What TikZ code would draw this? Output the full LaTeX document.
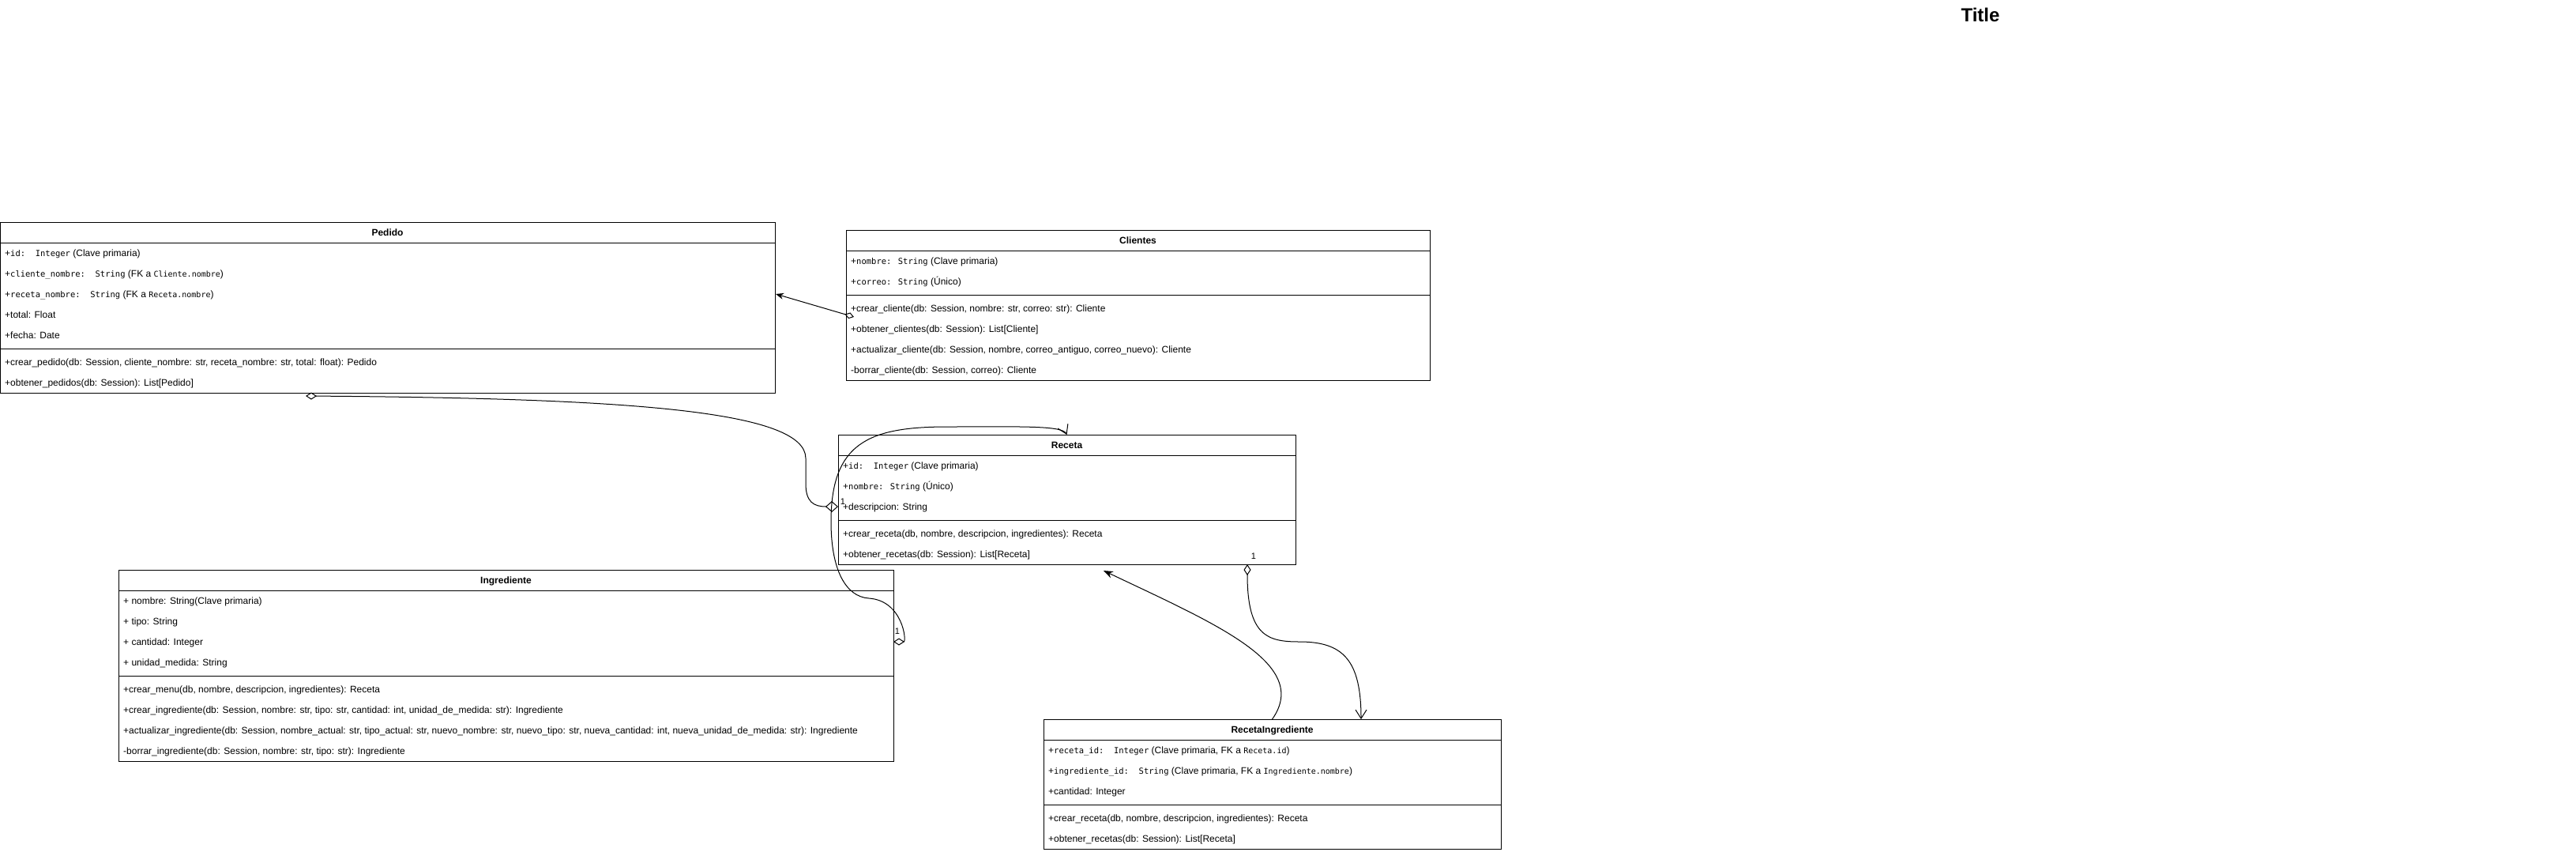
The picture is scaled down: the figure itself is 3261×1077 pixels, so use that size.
\documentclass[tikz,border=0pt]{standalone}
\usepackage{fontspec}
\setmainfont{Liberation Sans}
\newfontfamily\codefont{DejaVu Sans Mono}
\usepackage{tikz}
\usetikzlibrary{arrows.meta, positioning, calc}

\newcommand{\cod}[1]{{\codefont\fontsize{10.5}{12}\selectfont #1}}
\newcommand{\codsm}[1]{{\codefont\fontsize{10}{12}\selectfont #1}}

\begin{document}
\begin{tikzpicture}[x=1pt, y=-1pt,
    head/.style={rectangle, draw, line width=1pt, outer sep=0pt, inner sep=0pt, anchor=north west, minimum height=26pt, text height=8pt, text depth=0pt, font=\bfseries\fontsize{12}{14}\selectfont},
    part/.style={rectangle, draw, line width=1pt, outer sep=0pt, inner sep=0pt},
    row/.style={anchor=west, inner sep=0pt, text height=8pt, text depth=0pt, font=\fontsize{12}{14}\selectfont},
    mult/.style={inner sep=0pt, font=\fontsize{11}{13}\selectfont},
    link/.style={line width=1pt}
]
    \useasboundingbox (0,0) rectangle (3261,1077);

    \node[font=\bfseries\fontsize{24}{28}\selectfont] (title) at (2507,19) {Title};

    % Pedido
    \node[head, minimum width=981pt] (pedido) at (0,281) {Pedido};
    \node[part, minimum width=981pt, minimum height=134pt, below=0pt of pedido] (pedidoA) {};
    \node[part, minimum width=981pt, minimum height=56pt, below=0pt of pedidoA] (pedidoM) {};
    \node[row] (p1) at (6,320) {+\cod{id:\ \ Integer} (Clave primaria)};
    \node[row] (p2) at (6,346) {+\cod{cliente\_nombre:\ \ String} (FK a \codsm{Cliente.nombre})};
    \node[row] (p3) at (6,372) {+\cod{receta\_nombre:\ \ String} (FK a \codsm{Receta.nombre})};
    \node[row] (p4) at (6,398) {+total: Float};
    \node[row] (p5) at (6,424) {+fecha: Date};
    \node[row] (p6) at (6,458) {+crear\_pedido(db: Session, cliente\_nombre: str, receta\_nombre: str, total: float): Pedido};
    \node[row] (p7) at (6,484) {+obtener\_pedidos(db: Session): List[Pedido]};

    % Clientes
    \node[head, minimum width=739pt] (clientes) at (1071,291) {Clientes};
    \node[part, minimum width=739pt, minimum height=56pt, below=0pt of clientes] (clientesA) {};
    \node[part, minimum width=739pt, minimum height=108pt, below=0pt of clientesA] (clientesM) {};
    \node[row] (c1) at (1077,330) {+\cod{nombre: String} (Clave primaria)};
    \node[row] (c2) at (1077,356) {+\cod{correo: String} (Único)};
    \node[row] (c3) at (1077,390) {+crear\_cliente(db: Session, nombre: str, correo: str): Cliente};
    \node[row] (c4) at (1077,416) {+obtener\_clientes(db: Session): List[Cliente]};
    \node[row] (c5) at (1077,442) {+actualizar\_cliente(db: Session, nombre, correo\_antiguo, correo\_nuevo): Cliente};
    \node[row] (c6) at (1077,468) {-borrar\_cliente(db: Session, correo): Cliente};

    % Receta
    \node[head, minimum width=579pt] (receta) at (1061,550) {Receta};
    \node[part, minimum width=579pt, minimum height=82pt, below=0pt of receta] (recetaA) {};
    \node[part, minimum width=579pt, minimum height=56pt, below=0pt of recetaA] (recetaM) {};
    \node[row] (r1) at (1067,589) {+\cod{id:\ \ Integer} (Clave primaria)};
    \node[row] (r2) at (1067,615) {+\cod{nombre: String} (Único)};
    \node[row] (r3) at (1067,641) {+descripcion: String};
    \node[row] (r4) at (1067,675) {+crear\_receta(db, nombre, descripcion, ingredientes): Receta};
    \node[row] (r5) at (1067,701) {+obtener\_recetas(db: Session): List[Receta]};

    % Ingrediente
    \node[head, minimum width=981pt] (ingrediente) at (150,721) {Ingrediente};
    \node[part, minimum width=981pt, minimum height=108pt, below=0pt of ingrediente] (ingredienteA) {};
    \node[part, minimum width=981pt, minimum height=108pt, below=0pt of ingredienteA] (ingredienteM) {};
    \node[row] (i1) at (156,760) {+ nombre: String(Clave primaria)};
    \node[row] (i2) at (156,786) {+ tipo: String};
    \node[row] (i3) at (156,812) {+ cantidad: Integer};
    \node[row] (i4) at (156,838) {+ unidad\_medida: String};
    \node[row] (i5) at (156,872) {+crear\_menu(db, nombre, descripcion, ingredientes): Receta};
    \node[row] (i6) at (156,898) {+crear\_ingrediente(db: Session, nombre: str, tipo: str, cantidad: int, unidad\_de\_medida: str): Ingrediente};
    \node[row] (i7) at (156,924) {+actualizar\_ingrediente(db: Session, nombre\_actual: str, tipo\_actual: str, nuevo\_nombre: str, nuevo\_tipo: str, nueva\_cantidad: int, nueva\_unidad\_de\_medida: str): Ingrediente};
    \node[row] (i8) at (156,950) {-borrar\_ingrediente(db: Session, nombre: str, tipo: str): Ingrediente};

    % RecetaIngrediente
    \node[head, minimum width=579pt] (recetaIng) at (1321,910) {RecetaIngrediente};
    \node[part, minimum width=579pt, minimum height=82pt, below=0pt of recetaIng] (recetaIngA) {};
    \node[part, minimum width=579pt, minimum height=56pt, below=0pt of recetaIngA] (recetaIngM) {};
    \node[row] (ri1) at (1327,949) {+\cod{receta\_id:\ \ Integer} (Clave primaria, FK a \codsm{Receta.id})};
    \node[row] (ri2) at (1327,975) {+\cod{ingrediente\_id:\ \ String} (Clave primaria, FK a \codsm{Ingrediente.nombre})};
    \node[row] (ri3) at (1327,1001) {+cantidad: Integer};
    \node[row] (ri4) at (1327,1035) {+crear\_receta(db, nombre, descripcion, ingredientes): Receta};
    \node[row] (ri5) at (1327,1061) {+obtener\_recetas(db: Session): List[Receta]};

    % links
    \draw[link, {Diamond[open, length=12pt, width=8pt]}-{Stealth[length=10pt, width=8pt]}] ($(clientesM.north west)+(10,28)$) -- ($(pedidoA.north east)+(1,65)$);
    \draw[link, {Diamond[open, length=14pt, width=9pt]}-{Diamond[open, length=16pt, width=14pt]}] ($(pedidoM.south west)+(387,4)$) .. controls (800,504) and (1020,520) .. (1020,580) -- (1020,612) .. controls (1020,635) and (1030,641) .. ($(recetaA.north west)+(0,65)$);
    \draw[link, {Diamond[open, length=14pt, width=9pt]}-{Straight Barb[length=11pt, width=14pt]}] ($(ingredienteA.north east)+(0,65)$) .. controls (1148,812) and (1143,760) .. (1100,757) .. controls (1070,755) and (1052,720) .. (1052,660) .. controls (1052,560) and (1100,540) .. (1200,540) .. controls (1290,540) and (1345,538) .. (receta.north);
    \draw[link, -{Stealth[length=12pt, width=9pt]}] (recetaIng.north) .. controls (1660,840) and (1540,790) .. ($(recetaM.south west)+(336,8)$);
    \draw[link, {Diamond[open, length=14pt, width=9pt]}-{Straight Barb[length=11pt, width=14pt]}] ($(recetaM.south west)+(518,0)$) .. controls (1579,805) and (1605,812) .. (1645,812) .. controls (1700,812) and (1723,835) .. ($(recetaIng.north west)+(402,0)$);

    \node[mult] (m1) at (1067,635) {1};
    \node[mult] (m2) at (1136,799) {1};
    \node[mult] (m3) at (1587,704) {1};
\end{tikzpicture}
\end{document}
